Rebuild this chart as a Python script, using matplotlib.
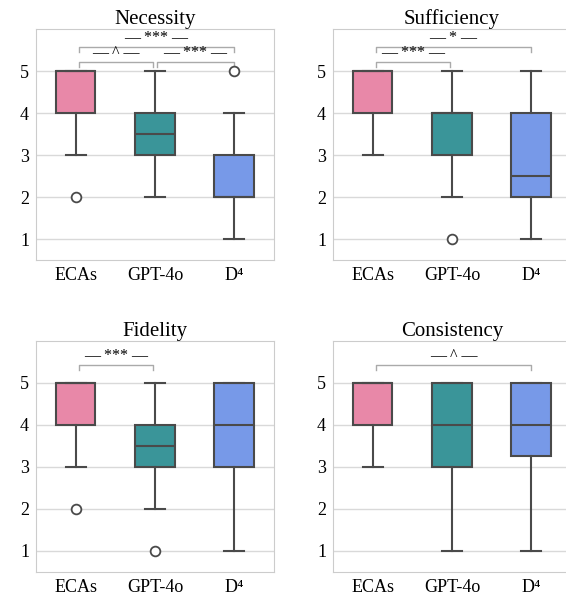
import matplotlib
matplotlib.use('Agg')
import matplotlib.pyplot as plt

plt.rcParams['font.family'] = ['Liberation Serif', 'DejaVu Serif']

# Data
models = ['ECAs', 'GPT-4o', 'D\u2074']
colors = ['#E888A8', '#3A9599', '#7799E8']
metrics = ['Necessity', 'Sufficiency', 'Fidelity', 'Consistency']

# per metric, per model: q1, median, q3, whisker low, whisker high, outliers
q1 = {'Necessity': [4, 3, 2], 'Sufficiency': [4, 3, 2],
      'Fidelity': [4, 3, 3], 'Consistency': [4, 3, 3.25]}
med = {'Necessity': [5, 3.5, 2], 'Sufficiency': [5, 4, 2.5],
       'Fidelity': [5, 3.5, 4], 'Consistency': [5, 4, 4]}
q3 = {'Necessity': [5, 4, 3], 'Sufficiency': [5, 4, 4],
      'Fidelity': [5, 4, 5], 'Consistency': [5, 5, 5]}
wlo = {'Necessity': [3, 2, 1], 'Sufficiency': [3, 2, 1],
       'Fidelity': [3, 2, 1], 'Consistency': [3, 1, 1]}
whi = {'Necessity': [5, 5, 4], 'Sufficiency': [5, 5, 5],
       'Fidelity': [5, 5, 5], 'Consistency': [5, 5, 5]}
fliers = {'Necessity': [[2], [], [5]], 'Sufficiency': [[], [1], []],
          'Fidelity': [[2], [1], []], 'Consistency': [[], [], []]}

# significance brackets: (i, j, label, bracket height)
sig = {'Necessity': [(0, 1, '— ^ —', 5.21), (1, 2, '— *** —', 5.21), (0, 2, '— *** —', 5.57)],
       'Sufficiency': [(0, 1, '— *** —', 5.21), (0, 2, '— * —', 5.57)],
       'Fidelity': [(0, 1, '— *** —', 5.42)],
       'Consistency': [(0, 2, '— ^ —', 5.42)]}

fig, axes = plt.subplots(2, 2, figsize=(5.66, 5.97), dpi=100)
plt.subplots_adjust(left=0.0636, right=1.0088, top=0.9514, bottom=0.0419,
                    wspace=0.248, hspace=0.346)

edge = '#4a4a4a'
for ax, m in zip(axes.flat, metrics):
    stats = []
    for k in range(3):
        stats.append(dict(q1=q1[m][k], med=med[m][k], q3=q3[m][k],
                          whislo=wlo[m][k], whishi=whi[m][k], fliers=fliers[m][k]))
    bp = ax.bxp(stats, positions=range(3), widths=0.5, patch_artist=True,
                boxprops=dict(edgecolor=edge, linewidth=1.5),
                medianprops=dict(color=edge, linewidth=1.5),
                whiskerprops=dict(color=edge, linewidth=1.5),
                capprops=dict(color=edge, linewidth=1.5),
                flierprops=dict(marker='o', markerfacecolor='white', markeredgecolor=edge,
                                markersize=7, markeredgewidth=1.3),
                capwidths=0.25, zorder=3)
    for patch, c in zip(bp['boxes'], colors):
        patch.set_facecolor(c)

    for i, j, lab, h in sig[m]:
        x1 = i + (0.04 if i == 0 else 0.02)
        x2 = j - (0.02 if j == 1 else 0.0)
        ax.plot([x1, x1, x2, x2], [h - 0.12, h, h, h - 0.12], color='#aaaaaa', lw=1.0)
        ax.text((x1 + x2) / 2, h + 0.02, lab, ha='center', va='bottom', fontsize=11.5)

    ax.set_xlim(-0.5, 2.5)
    ax.set_ylim(0.5, 6)
    ax.set_yticks([1, 2, 3, 4, 5])
    ax.set_xticks(range(3))
    ax.set_xticklabels(models)
    ax.tick_params(axis='both', labelsize=13, length=0, pad=5)
    ax.tick_params(axis='x', pad=5)
    ax.yaxis.grid(True, color='#d9d9d9', lw=1.0, zorder=0)
    ax.set_axisbelow(True)
    for s in ax.spines.values():
        s.set_color('#cccccc')
    ax.set_title(m, fontsize=15, pad=3)

fig.savefig('out.png', dpi=100)
